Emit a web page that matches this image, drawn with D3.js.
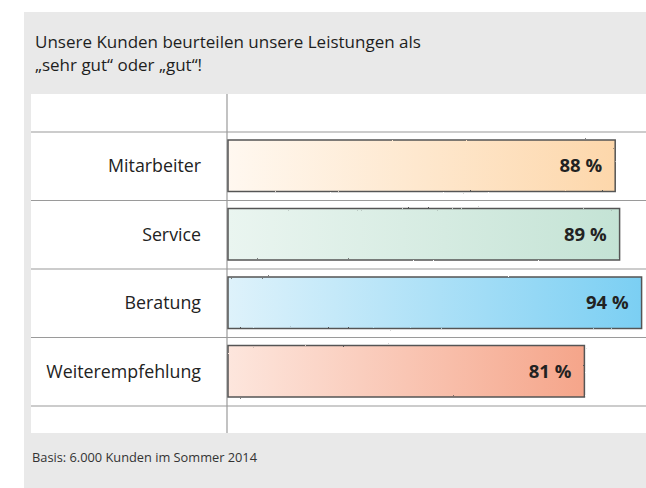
<!DOCTYPE html>
<html>
<head>
<meta charset="utf-8">
<script src="https://cdn.jsdelivr.net/npm/d3@7"></script>
<style>
  body { margin: 0; background: #fff; }
  svg { display: block; font-family: "Open Sans", "Noto Sans", sans-serif; }
</style>
</head>
<body>
<div id="chart"></div>
<script>
// data
var categories = ["Mitarbeiter", "Service", "Beratung", "Weiterempfehlung"];
var values = [88, 89, 94, 81];
var titleLines = ["Unsere Kunden beurteilen unsere Leistungen als", "\u201Esehr gut\u201C oder \u201Egut\u201C!"];
var footnote = "Basis: 6.000 Kunden im Sommer 2014";
var barColors = [
  ["#fff8f0", "#fdd7ab"],
  ["#eaf5f0", "#c4e3d5"],
  ["#def2fb", "#7bcff3"],
  ["#fde6dd", "#f5a58a"]
];

var width = 646, height = 488;
var svg = d3.select("#chart").append("svg")
  .attr("width", width)
  .attr("height", height);

// grey card + white plot panel
svg.append("rect").attr("x", 24).attr("y", 12).attr("width", width - 24).attr("height", height - 12).attr("fill", "#e9e9e9");
svg.append("rect").attr("x", 31).attr("y", 94).attr("width", width - 31).attr("height", 339).attr("fill", "#fff");

// title, two lines
svg.selectAll("text.title")
  .data(titleLines)
  .enter()
  .append("text")
  .attr("class", "title")
  .attr("x", 35)
  .attr("y", function(d, i) { return 48 + i * 23.4; })
  .attr("fill", "#1e1e1e")
  .style("font-size", "17px")
  .text(function(d) { return d; });

// scales
var x = d3.scaleLinear().domain([0, 100]).range([228, 668]);
var y = d3.scaleBand().domain(categories).range([132, 406]).paddingInner(0).paddingOuter(0);

// row lines
var lineYs = [y.range()[0]].concat(categories.map(function(c) { return y(c) + y.bandwidth(); }));
svg.selectAll("line.row")
  .data(lineYs)
  .enter()
  .append("line")
  .attr("class", "row")
  .attr("x1", 31).attr("x2", width)
  .attr("y1", function(d) { return d; })
  .attr("y2", function(d) { return d; })
  .attr("stroke", "#9a9a9a")
  .attr("stroke-width", 1.2);

// divider
svg.append("line")
  .attr("x1", 227).attr("x2", 227)
  .attr("y1", 94).attr("y2", 433)
  .attr("stroke", "#9a9a9a")
  .attr("stroke-width", 1.2);

// gradients
var defs = svg.append("defs");
barColors.forEach(function(c, i) {
  var g = defs.append("linearGradient").attr("id", "grad" + i)
    .attr("x1", "0%").attr("x2", "100%").attr("y1", "0%").attr("y2", "0%");
  g.append("stop").attr("offset", "0%").attr("stop-color", c[0]);
  g.append("stop").attr("offset", "100%").attr("stop-color", c[1]);
});
var rough = defs.append("filter").attr("id", "rough");
rough.append("feTurbulence").attr("type", "fractalNoise").attr("baseFrequency", 0.6).attr("numOctaves", 2).attr("seed", 3);
rough.append("feDisplacementMap").attr("in", "SourceGraphic").attr("scale", 1.6);

var barPad = 8;
var bars = svg.selectAll("g.bar")
  .data(categories)
  .enter()
  .append("g")
  .attr("class", "bar");

bars.append("rect")
  .attr("x", x(0))
  .attr("y", function(d) { return y(d) + barPad; })
  .attr("width", function(d, i) { return x(values[i]) - x(0); })
  .attr("height", y.bandwidth() - 2 * barPad - 1)
  .attr("fill", function(d, i) { return "url(#grad" + i + ")"; });

bars.append("rect")
  .attr("x", x(0))
  .attr("y", function(d) { return y(d) + barPad; })
  .attr("width", function(d, i) { return x(values[i]) - x(0); })
  .attr("height", y.bandwidth() - 2 * barPad - 1)
  .attr("fill", "none")
  .attr("stroke", "#555")
  .attr("stroke-width", 1.5)
  .attr("filter", "url(#rough)");

// value labels
bars.append("text")
  .attr("x", function(d, i) { return x(values[i]) - 13; })
  .attr("y", function(d) { return y(d) + y.bandwidth() / 2 + 6; })
  .attr("text-anchor", "end")
  .attr("fill", "#222")
  .style("font-size", "18.5px")
  .style("font-weight", "bold")
  .text(function(d, i) { return values[i] + " %"; });

// category labels
svg.selectAll("text.cat")
  .data(categories)
  .enter()
  .append("text")
  .attr("class", "cat")
  .attr("x", 201)
  .attr("y", function(d) { return y(d) + y.bandwidth() / 2 + 6; })
  .attr("text-anchor", "end")
  .attr("fill", "#222")
  .style("font-size", "17.8px")
  .text(function(d) { return d; });

// footnote
svg.append("text")
  .attr("x", 32)
  .attr("y", 462)
  .attr("fill", "#333")
  .style("font-size", "12.8px")
  .text(footnote);
</script>
</body>
</html>
